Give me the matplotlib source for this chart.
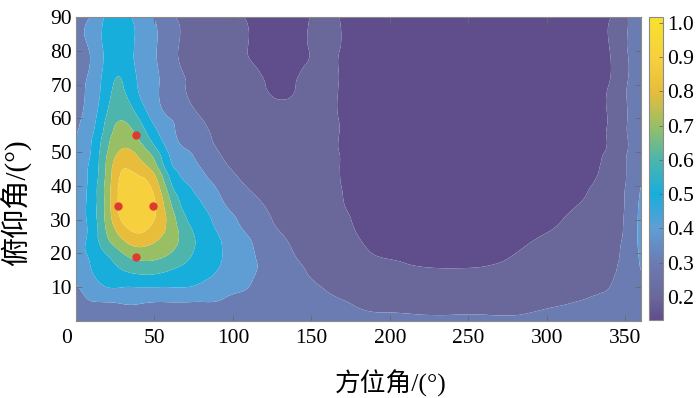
import numpy as np
import matplotlib
matplotlib.use("Agg")
import matplotlib.pyplot as plt
import matplotlib.tri as mtri
from matplotlib.colors import LinearSegmentedColormap, Normalize
from matplotlib.cm import ScalarMappable
from matplotlib.transforms import ScaledTranslation

# values: normalised pattern on an (azimuth, elevation) grid
azimuth = [0, 10, 20, 30, 40, 50, 60, 70, 80, 90, 100, 110, 120, 130, 140, 150,
           160, 170, 180, 200, 220, 240, 260, 280, 300, 310, 320, 330, 340, 350, 360]
elevation = [0, 5, 10, 15, 20, 25, 30, 35, 40, 45, 50, 55, 60, 70, 80, 90]

# one row per azimuth, values along elevation
gain_by_azimuth = [
    [.33, .36, .39, .41, .43, .44, .44, .44, .44, .43, .42, .40, .385, .375, .37, .365],
    [.35, .39, .45, .50, .53, .54, .545, .545, .54, .53, .51, .49, .46, .43, .415, .41],
    [.35, .39, .50, .56, .61, .70, .74, .75, .75, .73, .70, .66, .62, .56, .53, .52],
    [.35, .40, .50, .60, .70, .82, .92, .96, .94, .90, .82, .75, .69, .60, .56, .54],
    [.35, .40, .50, .63, .75, .88, .97, 1.0, .95, .86, .77, .68, .60, .49, .47, .46],
    [.35, .39, .50, .63, .74, .83, .90, .91, .86, .76, .65, .54, .47, .42, .41, .395],
    [.35, .39, .50, .60, .70, .76, .76, .71, .63, .54, .48, .43, .40, .34, .33, .32],
    [.35, .39, .50, .57, .63, .65, .61, .56, .51, .46, .41, .37, .34, .30, .28, .27],
    [.35, .39, .48, .54, .57, .57, .54, .50, .45, .40, .36, .33, .30, .27, .25, .24],
    [.35, .39, .45, .50, .52, .51, .47, .43, .39, .34, .305, .28, .265, .245, .23, .225],
    [.34, .37, .42, .45, .46, .44, .41, .37, .33, .295, .27, .255, .245, .225, .213, .208],
    [.33, .36, .40, .42, .42, .40, .37, .33, .295, .27, .255, .245, .235, .215, .199, .196],
    [.33, .35, .37, .38, .37, .35, .32, .295, .27, .255, .245, .235, .225, .201, .186, .183],
    [.32, .34, .35, .35, .34, .31, .285, .265, .25, .24, .235, .225, .215, .194, .181, .178],
    [.32, .33, .33, .32, .295, .275, .26, .25, .235, .23, .225, .22, .215, .200, .19, .188],
    [.32, .32, .31, .29, .27, .255, .245, .235, .225, .22, .215, .213, .21, .209, .202, .202],
    [.32, .31, .295, .27, .255, .24, .23, .225, .215, .212, .21, .208, .207, .207, .21, .214],
    [.315, .305, .28, .255, .24, .225, .212, .202, .198, .196, .195, .195, .195, .195, .195, .195],
    [.31, .295, .265, .24, .215, .20, .19, .183, .178, .175, .173, .172, .172, .172, .172, .174],
    [.31, .285, .245, .215, .195, .185, .175, .168, .163, .16, .158, .156, .155, .155, .155, .158],
    [.31, .28, .24, .205, .188, .175, .165, .158, .152, .148, .145, .143, .142, .142, .143, .147],
    [.31, .28, .24, .203, .185, .17, .16, .152, .146, .142, .139, .137, .136, .135, .137, .142],
    [.31, .28, .24, .205, .188, .173, .162, .154, .148, .143, .14, .138, .137, .136, .138, .143],
    [.31, .28, .245, .215, .20, .186, .175, .166, .158, .152, .148, .146, .144, .142, .144, .148],
    [.315, .292, .255, .23, .215, .203, .192, .183, .175, .168, .163, .16, .157, .154, .155, .158],
    [.32, .298, .265, .238, .222, .21, .20, .19, .182, .175, .169, .166, .163, .158, .159, .162],
    [.33, .305, .275, .25, .235, .222, .21, .199, .19, .183, .178, .174, .171, .167, .167, .17],
    [.333, .312, .288, .265, .25, .237, .224, .212, .203, .195, .187, .183, .180, .177, .176, .178],
    [.335, .32, .30, .288, .275, .263, .253, .244, .236, .222, .215, .211, .208, .203, .199, .196],
    [.34, .335, .33, .325, .32, .315, .31, .305, .30, .295, .29, .29, .29, .29, .29, .288],
    [.33, .35, .37, .40, .42, .43, .43, .42, .40, .38, .36, .35, .34, .335, .33, .33],
]

levels = [0.2, 0.3, 0.4, 0.5, 0.6, 0.7, 0.8, 0.9]
cbar_ticks = [0.2, 0.3, 0.4, 0.5, 0.6, 0.7, 0.8, 0.9, 1.0]

point_az = [38, 27, 49, 38]
point_el = [55, 34, 34, 19]

VMIN, VMAX = 0.133, 1.017

# washed-out parula, as it appears in the picture
anchors = [
    (0.133, "#5f4e8b"), (0.2, "#6a689b"), (0.3, "#6b7cb2"), (0.4, "#5f9ed5"),
    (0.5, "#17aedc"), (0.6, "#4cb5ad"), (0.7, "#98bf66"), (0.8, "#e7bd3b"),
    (0.9, "#f6d13d"), (1.017, "#f8e22c"),
]
cmap = LinearSegmentedColormap.from_list(
    "parula_faded", [((v - VMIN) / (VMAX - VMIN), c) for v, c in anchors])
norm = Normalize(VMIN, VMAX)

plt.rcParams["font.family"] = ["Liberation Serif", "Noto Sans CJK SC"]

az_grid, el_grid = np.meshgrid(azimuth, elevation, indexing="ij")
gain = np.array(gain_by_azimuth)

tri = mtri.Triangulation(az_grid.ravel(), el_grid.ravel())
interp = mtri.CubicTriInterpolator(tri, gain.ravel())
refiner = mtri.UniformTriRefiner(tri)
fine_tri, fine_gain = refiner.refine_field(gain.ravel(), triinterpolator=interp, subdiv=4)

fill_levels = [-1.0] + levels + [2.0]
fill_colors = [cmap(norm(VMIN))] + [cmap(norm(v)) for v in levels]

fig = plt.figure(figsize=(7.0, 3.98), dpi=100)
ax = fig.add_axes([76 / 700, 77 / 398, 565 / 700, 304 / 398])
ax.tricontourf(fine_tri, fine_gain, levels=fill_levels, colors=fill_colors, antialiased=True)
ax.plot(point_az, point_el, "o", color="#e03a30", markersize=6, markeredgewidth=0)

ax.set_xlim(0, 360)
ax.set_ylim(0, 90)
ax.set_xticks(range(0, 351, 50))
ax.set_yticks(range(10, 91, 10))
ax.tick_params(direction="in", length=4, width=0.6, color="#6a6a6a",
               top=True, right=True, labelsize=15.5)
ax.tick_params(axis="x", pad=6)
ax.tick_params(axis="y", pad=3)
for side in ax.spines.values():
    side.set_color("#8a8a8a")
    side.set_linewidth(0.8)

# the "0" label sits a little left of its tick in the original
zero_label = ax.xaxis.get_major_ticks()[0].label1
zero_label.set_transform(zero_label.get_transform()
                         + ScaledTranslation(-9 / 100, 0, fig.dpi_scale_trans))

ax.set_xlabel("方位角/(°)", fontsize=18.5)
ax.set_ylabel("俯仰角/(°)", fontsize=21)
ax.xaxis.set_label_coords(0.5575, -0.161)
ax.yaxis.set_label_coords(-0.078, 0.388)

cax = fig.add_axes([649 / 700, 78 / 398, 14 / 700, 303 / 398])
cb = fig.colorbar(ScalarMappable(norm=norm, cmap=cmap), cax=cax, ticks=cbar_ticks)
cb.ax.set_yticklabels([f"{t:.1f}" for t in cbar_ticks])
cb.ax.tick_params(direction="in", length=3, width=0.6, color="#6a6a6a", labelsize=15.5, pad=3)
cb.outline.set_edgecolor("#8a8a8a")
cb.outline.set_linewidth(0.8)

fig.savefig("out.png", dpi=100)
